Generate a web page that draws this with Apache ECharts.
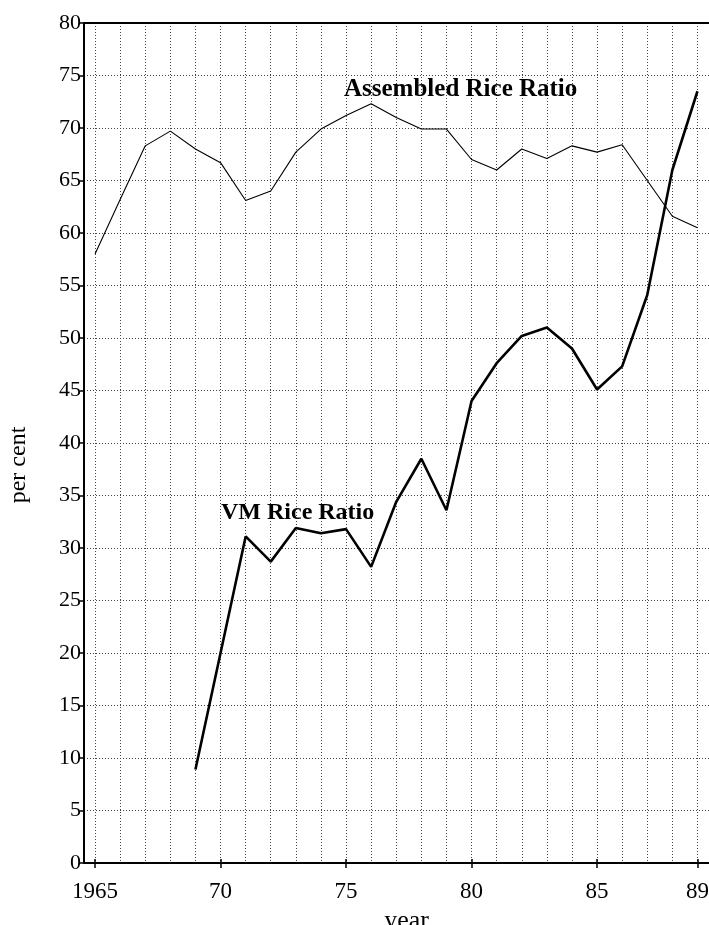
<!DOCTYPE html>
<html>
<head>
<meta charset="utf-8">
<style>
  html, body { margin: 0; padding: 0; background: #fff; }
  #chart { width: 709px; height: 925px; }
</style>
<script src="https://cdn.jsdelivr.net/npm/echarts@6/dist/echarts.min.js"></script>
</head>
<body>
<div id="chart"></div>
<script>
// ---- data ----
const years = [1965, 1966, 1967, 1968, 1969, 1970, 1971, 1972, 1973, 1974, 1975, 1976,
               1977, 1978, 1979, 1980, 1981, 1982, 1983, 1984, 1985, 1986, 1987, 1988, 1989];
const assembledRiceRatio = [58.0, 63.2, 68.3, 69.7, 68.0, 66.7, 63.1, 64.0, 67.7, 69.9, 71.2, 72.3,
                            71.0, 69.9, 69.9, 67.0, 66.0, 68.0, 67.1, 68.3, 67.7, 68.4, 65.0, 61.6, 60.5];
const vmYears = [1969, 1970, 1971, 1972, 1973, 1974, 1975, 1976, 1977, 1978, 1979,
                 1980, 1981, 1982, 1983, 1984, 1985, 1986, 1987, 1988, 1989];
const vmRiceRatio = [8.9, 20.0, 31.1, 28.7, 31.9, 31.4, 31.8, 28.2, 34.4, 38.5, 33.6,
                     44.0, 47.6, 50.2, 51.0, 49.0, 45.1, 47.3, 54.1, 66.0, 73.5];
const xTickYears = [1965, 1970, 1975, 1980, 1985, 1989];
const xTickLabels = ['1965', '70', '75', '80', '85', '89'];
const gridYears = [1965, 1966, 1967, 1968, 1969, 1970, 1971, 1972, 1973, 1974, 1975, 1976,
                   1977, 1978, 1979, 1980, 1981, 1982, 1983, 1984, 1985, 1986, 1987, 1988, 1989];
const seriesNames = ['Assembled Rice Ratio', 'VM Rice Ratio'];
const xAxisName = 'year';
const yAxisName = 'per cent';

const FONT = '"Liberation Serif", "DejaVu Serif", serif';
const dotted = { color: '#444', width: 1, type: [1, 2] };
const X_MIN = 1964.56, X_MAX = 1989.46;

const chart = echarts.init(document.getElementById('chart'), null, { renderer: 'canvas' });

const option = {
  animation: false,
  backgroundColor: '#fff',
  grid: { left: 84, right: 0, top: 23, bottom: 62, containLabel: false, outerBoundsMode: 'none' },
  xAxis: [
    {
      type: 'value',
      position: 'bottom',
      min: X_MIN,
      max: X_MAX,
      name: xAxisName,
      nameLocation: 'middle',
      nameGap: 39,
      nameTextStyle: { fontFamily: FONT, fontSize: 26, color: '#000', padding: [0, 0, 0, 20] },
      axisLine: { onZero: false, lineStyle: { color: '#000', width: 2 } },
      axisTick: { show: true, customValues: xTickYears, length: 5, lineStyle: { color: '#000', width: 1.5 } },
      axisLabel: {
        customValues: xTickYears,
        margin: 17,
        fontFamily: FONT,
        fontSize: 23,
        color: '#000',
        formatter: function (v) {
          const i = xTickYears.indexOf(Math.round(v));
          return i >= 0 ? xTickLabels[i] : '';
        }
      },
      splitLine: { show: false }
    },
    {
      type: 'value',
      position: 'top',
      min: X_MIN,
      max: X_MAX,
      axisLine: { onZero: false, lineStyle: { color: '#000', width: 2 } },
      axisTick: { show: false, customValues: gridYears },
      axisLabel: { show: false },
      splitLine: { show: true, lineStyle: dotted }
    },
    {
      type: 'value',
      position: 'bottom',
      min: X_MIN,
      max: X_MAX,
      axisLine: { show: false, onZero: false },
      axisTick: { show: true, inside: true, customValues: xTickYears, length: 4, lineStyle: { color: '#000', width: 1.5 } },
      axisLabel: { show: false },
      splitLine: { show: false }
    }
  ],
  yAxis: {
    type: 'value',
    min: 0,
    max: 80,
    interval: 5,
    name: yAxisName,
    nameLocation: 'middle',
    nameGap: 53,
    nameTextStyle: { fontFamily: FONT, fontSize: 24, color: '#000', padding: [0, 44, 0, 0] },
    axisLine: { show: true, lineStyle: { color: '#000', width: 2 } },
    axisTick: { show: true, length: 4, lineStyle: { color: '#000', width: 1.5 } },
    axisLabel: { margin: 3, fontFamily: FONT, fontSize: 22, color: '#000' },
    splitLine: { show: true, lineStyle: dotted }
  },
  series: [
    {
      name: seriesNames[0],
      type: 'line',
      xAxisIndex: 0,
      symbol: 'none',
      lineStyle: { color: '#000', width: 1.1 },
      data: years.map((y, i) => [y, assembledRiceRatio[i]]),
      z: 3
    },
    {
      name: seriesNames[1],
      type: 'line',
      xAxisIndex: 0,
      symbol: 'none',
      lineStyle: { color: '#000', width: 2.6 },
      data: vmYears.map((y, i) => [y, vmRiceRatio[i]]),
      z: 4
    }
  ],
  graphic: [
    {
      type: 'text',
      left: 344,
      top: 77,
      style: { text: seriesNames[0], font: 'bold 25px ' + FONT, fill: '#000' },
      z: 10
    },
    {
      type: 'text',
      left: 221,
      top: 501,
      style: { text: seriesNames[1], font: 'bold 24px ' + FONT, fill: '#000' },
      z: 10
    }
  ]
};

chart.setOption(option);
</script>
</body>
</html>
